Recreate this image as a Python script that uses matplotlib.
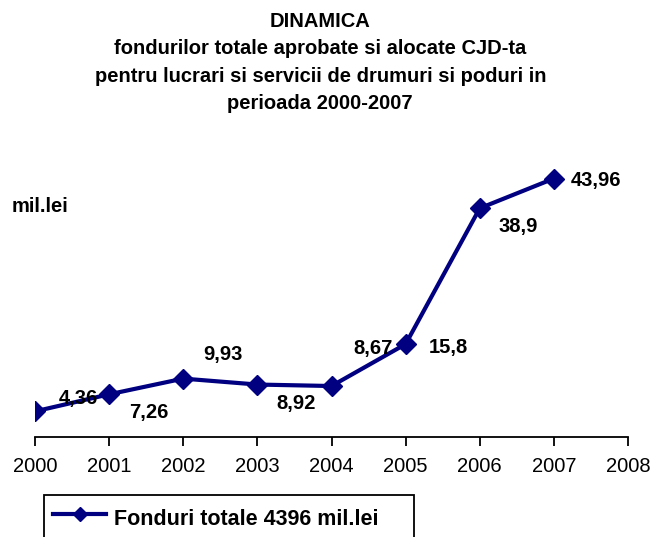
import matplotlib.pyplot as plt
from matplotlib.patches import Rectangle

plt.rcParams["font.family"] = ["Liberation Sans", "DejaVu Sans"]

years = [2000, 2001, 2002, 2003, 2004, 2005, 2006, 2007]
values = [4.36, 7.26, 9.93, 8.92, 8.67, 15.8, 38.9, 43.96]
labels = ["4,36", "7,26", "9,93", "8,92", "8,67", "15,8", "38,9", "43,96"]
tick_years = [2000, 2001, 2002, 2003, 2004, 2005, 2006, 2007, 2008]
# label offsets from each point, in pixels
offsets = [(43, 13), (40, -18), (40, 24), (39, -19), (42, 38), (43, -3), (38, -18), (42, -2)]

navy = "#000080"
W, H = 651, 537

fig = plt.figure(figsize=(W / 100, H / 100), dpi=100)
ax = fig.add_axes([35 / W, 100 / H, 593 / W, 294 / H])

line, = ax.plot(years, values, color=navy, lw=3, marker="D", markersize=10,
                label="Fonduri totale 4396 mil.lei")

for x, y, t, (dx, dy) in zip(years, values, labels, offsets):
    ax.annotate(t, (x, y), xytext=(dx, dy), textcoords="offset pixels",
                ha="center", va="center", fontsize=14.5, fontweight="bold")

ax.set_xlim(2000, 2008)
ax.set_ylim(0, 50)
ax.set_xticks(tick_years)
ax.set_xticklabels([str(y) for y in tick_years], fontsize=14.5)
ax.set_yticks([])
for s in ["top", "right", "left"]:
    ax.spines[s].set_visible(False)
ax.spines["bottom"].set_linewidth(1.3)
ax.tick_params(axis="x", direction="out", length=6.5, width=1.3, pad=8)
ax.patch.set_alpha(0)

fig.text(0.492, 1 - 12 / H,
         "DINAMICA\nfondurilor totale aprobate si alocate CJD-ta\n"
         "pentru lucrari si servicii de drumuri si poduri in\nperioada 2000-2007",
         ha="center", va="top", fontsize=14.5, fontweight="bold", linespacing=1.55)

fig.text(12 / W, 1 - 207 / H, "mil.lei", ha="left", va="center",
         fontsize=14.5, fontweight="bold")

# legend box runs past the bottom edge, as in the original
fig.patches.append(Rectangle((44 / W, -0.05), (414 - 44) / W, 0.05 + 1 - 495 / H,
                             transform=fig.transFigure, fill=False,
                             edgecolor="black", lw=1.3))
leg = fig.legend(handles=[line], loc="upper left",
                 bbox_to_anchor=(44 / W, 1 - 495 / H),
                 prop={"size": 15.5, "weight": "bold"}, frameon=False,
                 borderpad=0.4, handlelength=2.5, handleheight=1.7,
                 handletextpad=0.35, borderaxespad=0, markerscale=0.7)

fig.savefig("out.png", dpi=100)
